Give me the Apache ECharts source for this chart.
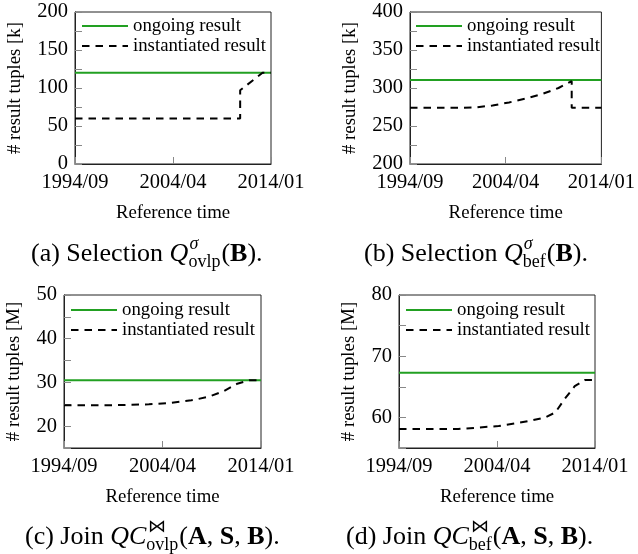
<!DOCTYPE html>
<html><head><meta charset="utf-8">
<script src="https://cdn.jsdelivr.net/npm/echarts@6/dist/echarts.min.js"></script>
<style>html,body{margin:0;padding:0;background:#fff}#c{width:638px;height:554px}</style>
</head><body><div id="c"></div>
<script>
// ---- data (x = months since 1994/09) ----
const xTickValues = [0, 116, 232];
const xTickLabels = ['1994/09', '2004/04', '2014/01'];
const seriesNames = ['ongoing result', 'instantiated result'];

const ongA_x = [0, 232];
const ongA_y = [120, 120];
const instA_x = [0, 195.5, 195.5, 222, 232];
const instA_y = [60, 60, 97, 120, 120];

const ongB_x = [0, 232];
const ongB_y = [310.5, 310.5];
const instB_x = [0, 60, 80, 100, 120, 140, 160, 180, 196, 196, 232];
const instB_y = [274, 274, 274.5, 277, 281, 286, 292, 300, 309, 274, 274];

const ongC_x = [0, 232];
const ongC_y = [30.5, 30.5];
const instC_x = [0, 60, 80, 100, 125, 150, 170, 188, 204, 218, 232];
const instC_y = [24.8, 24.8, 24.9, 25.0, 25.3, 25.9, 26.7, 28.0, 29.7, 30.5, 30.5];

const ongD_x = [0, 232];
const ongD_y = [67.3, 67.3];
const instD_x = [0, 70, 90, 118, 137, 157, 173, 185, 196, 208, 220, 232];
const instD_y = [58.1, 58.1, 58.3, 58.6, 59.0, 59.5, 60.0, 60.8, 63.0, 65.1, 66.1, 66.1];

const yLabelsA = [0, 50, 100, 150, 200];
const yLabelsB = [200, 250, 300, 350, 400];
const yLabelsC = [20, 30, 40, 50];
const yLabelsD = [60, 70, 80];
const yNames = ['# result tuples [k]', '# result tuples [k]', '# result tuples [M]', '# result tuples [M]'];
const xName = 'Reference time';

// ---- layout ----
const FONT = 'Liberation Serif';
const FS = 18.8;
const TFS = 20.5;
const GREEN = '#22a022';
const panels = [
  {grid: {left: 75, top: 12, width: 196, height: 152}, yMin: 0, yMax: 200, yInt: 25, yLabels: yLabelsA, nameGap: 50,
   ong: [ongA_x, ongA_y], inst: [instA_x, instA_y], legend: {left: 81, top: 16}},
  {grid: {left: 410, top: 12, width: 195, height: 152}, yMin: 200, yMax: 400, yInt: 25, yLabels: yLabelsB, nameGap: 50,
   ong: [ongB_x, ongB_y], inst: [instB_x, instB_y], legend: {left: 415, top: 16}},
  {grid: {left: 64, top: 295, width: 197, height: 153}, yMin: 15, yMax: 50, yInt: 5, yLabels: yLabelsC, nameGap: 40,
   ong: [ongC_x, ongC_y], inst: [instC_x, instC_y], legend: {left: 70, top: 300}},
  {grid: {left: 399, top: 295, width: 196, height: 153}, yMin: 55, yMax: 80, yInt: 5, yLabels: yLabelsD, nameGap: 40,
   ong: [ongD_x, ongD_y], inst: [instD_x, instD_y], legend: {left: 405, top: 300}}
];

const zip = (xs, ys) => xs.map((x, i) => [x, ys[i]]);

const grids = [], xAxes = [], yAxes = [], series = [], legends = [];
panels.forEach((p, i) => {
  grids.push(Object.assign({show: true, borderColor: '#222', borderWidth: 1, backgroundColor: 'transparent'}, p.grid));
  xAxes.push({
    type: 'value', gridIndex: i, min: 0, max: 232, interval: 116,
    name: xName, nameLocation: 'middle', nameGap: 40,
    nameTextStyle: {fontFamily: FONT, fontSize: FS, color: '#000'},
    axisLine: {show: true, lineStyle: {color: '#222', width: 1}},
    axisTick: {show: true, inside: true, length: 7, lineStyle: {color: '#888', width: 1}},
    axisLabel: {show: true, margin: 8, fontFamily: FONT, fontSize: TFS, color: '#000', showMinLabel: true, showMaxLabel: true,
      formatter: v => { const k = xTickValues.indexOf(Math.round(v)); return k >= 0 ? xTickLabels[k] : ''; }},
    splitLine: {show: false}
  });
  yAxes.push({
    type: 'value', gridIndex: i, min: p.yMin, max: p.yMax, interval: p.yInt,
    name: yNames[i], nameLocation: 'middle', nameGap: p.nameGap, nameRotate: 90,
    nameTextStyle: {fontFamily: FONT, fontSize: FS, color: '#000'},
    axisLine: {show: true, lineStyle: {color: '#222', width: 1}},
    axisTick: {show: true, inside: true, length: 7, lineStyle: {color: '#888', width: 1}},
    axisLabel: {show: true, margin: 7, fontFamily: FONT, fontSize: TFS, color: '#000', showMinLabel: true, showMaxLabel: true,
      formatter: v => p.yLabels.indexOf(Math.round(v * 100) / 100) >= 0 ? String(v) : ''},
    splitLine: {show: false}
  });
  series.push({
    name: seriesNames[0], type: 'line', xAxisIndex: i, yAxisIndex: i, symbol: 'none', silent: true,
    data: zip(p.ong[0], p.ong[1]), lineStyle: {color: GREEN, width: 2}, itemStyle: {color: GREEN}, z: 2
  });
  series.push({
    name: seriesNames[1], type: 'line', xAxisIndex: i, yAxisIndex: i, symbol: 'none', silent: true,
    data: zip(p.inst[0], p.inst[1]), lineStyle: {color: '#000', width: 2, type: [7.5, 6]}, itemStyle: {color: '#000'}, z: 3
  });
  legends.push({
    left: p.legend.left, top: p.legend.top, orient: 'vertical', padding: 0, itemGap: 0,
    itemWidth: 46, itemHeight: 12, selectedMode: false, data: seriesNames,
    itemStyle: {color: 'rgba(0,0,0,0)', borderWidth: 0, opacity: 0},
    textStyle: {fontFamily: FONT, fontSize: FS, color: '#000', lineHeight: 20}
  });
});

// ---- captions ----
const captionA = [{t: '(a) Selection '}, {t: 'Q', s: 'italic'}, {sup: 'σ', sub: 'ovlp'}, {t: '('}, {t: 'B', w: 'bold'}, {t: ').'}];
const captionB = [{t: '(b) Selection '}, {t: 'Q', s: 'italic'}, {sup: 'σ', sub: 'bef'}, {t: '('}, {t: 'B', w: 'bold'}, {t: ').'}];
const captionC = [{t: '(c) Join '}, {t: 'QC', s: 'italic'}, {sup: '⋈', sub: 'ovlp', supUp: true}, {t: '('}, {t: 'A', w: 'bold'}, {t: ', '}, {t: 'S', w: 'bold'}, {t: ', '}, {t: 'B', w: 'bold'}, {t: ').'}];
const captionD = [{t: '(d) Join '}, {t: 'QC', s: 'italic'}, {sup: '⋈', sub: 'bef', supUp: true}, {t: '('}, {t: 'A', w: 'bold'}, {t: ', '}, {t: 'S', w: 'bold'}, {t: ', '}, {t: 'B', w: 'bold'}, {t: ').'}];

const CFS = 26, SFS = 18;
const ctx = document.createElement('canvas').getContext('2d');
function fnt(size, style, weight) { return (style || 'normal') + ' ' + (weight || 'normal') + ' ' + size + 'px "' + FONT + '"'; }
function mw(text, f) { ctx.font = f; return ctx.measureText(text).width; }
function caption(x0, yc, parts) {
  const els = []; let x = x0;
  parts.forEach(p => {
    if (p.sup !== undefined) {
      const f1 = fnt(SFS, p.supUp ? 'normal' : 'italic'), f2 = fnt(SFS);
      const dx = p.supUp ? 2 : 1;
      els.push({type: 'text', x: x + dx, y: yc - 10, silent: true, style: {text: p.sup, font: f1, fill: '#000', align: 'left', verticalAlign: 'middle'}});
      els.push({type: 'text', x: x, y: yc + 8, silent: true, style: {text: p.sub, font: f2, fill: '#000', align: 'left', verticalAlign: 'middle'}});
      x += Math.max(mw(p.sup, f1) + dx, mw(p.sub, f2)) + 1;
    } else {
      const f = fnt(CFS, p.s, p.w);
      els.push({type: 'text', x: x, y: yc, silent: true, style: {text: p.t, font: f, fill: '#000', align: 'left', verticalAlign: 'middle'}});
      x += mw(p.t, f);
    }
  });
  return els;
}
const graphics = [].concat(
  caption(31, 254, captionA),
  caption(364, 254, captionB),
  caption(25, 537, captionC),
  caption(346, 537, captionD)
);

const chart = echarts.init(document.getElementById('c'), null, {renderer: 'canvas'});
chart.setOption({
  animation: false,
  backgroundColor: '#fff',
  grid: grids, xAxis: xAxes, yAxis: yAxes, series: series, legend: legends,
  graphic: graphics
});
</script>
</body></html>
